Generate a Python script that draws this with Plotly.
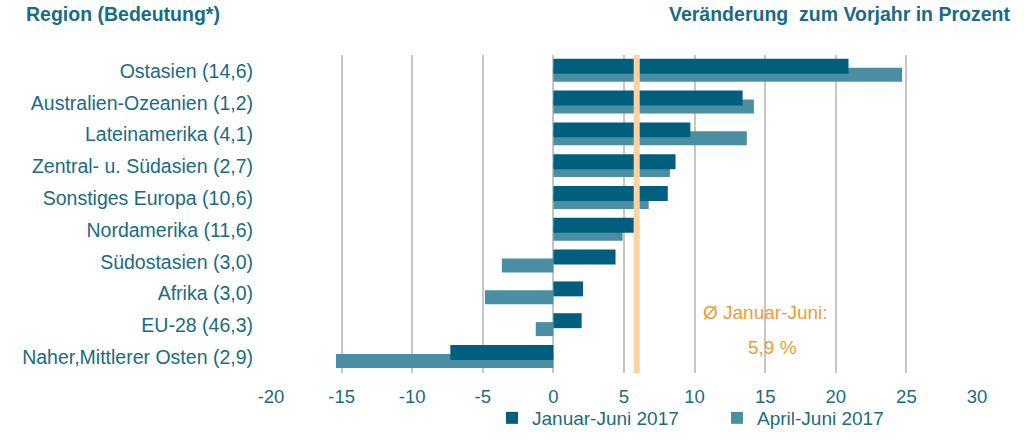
import plotly.graph_objects as go

regions = [
    "Ostasien (14,6)",
    "Australien-Ozeanien (1,2)",
    "Lateinamerika (4,1)",
    "Zentral- u. Südasien (2,7)",
    "Sonstiges Europa (10,6)",
    "Nordamerika (11,6)",
    "Südostasien (3,0)",
    "Afrika (3,0)",
    "EU-28 (46,3)",
    "Naher,Mittlerer Osten (2,9)",
]
jan_jun_2017 = [20.9, 13.4, 9.7, 8.65, 8.1, 5.7, 4.4, 2.1, 2.0, -7.3]
apr_jun_2017 = [24.7, 14.2, 13.7, 8.25, 6.75, 4.9, -3.65, -4.85, -1.25, -15.4]
avg_jan_jun = 5.9
x_ticks = [-20, -15, -10, -5, 0, 5, 10, 15, 20, 25, 30]
x_tick_labels = ["-20", "-15", "-10", "-5", "0", "5", "10", "15", "20", "25", "30"]

DARK = "#005f7e"
LIGHT = "#4a8ea3"
TEXT = "#1a6b84"
ORANGE = "#f19a34"
FONT = "Liberation Sans, Arial, sans-serif"

fig = go.Figure()
fig.add_trace(go.Bar(
    name="April-Juni 2017", y=regions, x=apr_jun_2017, orientation="h",
    marker=dict(color=LIGHT, line=dict(width=0)),
    offset=-0.1, width=0.44, legendrank=2,
))
fig.add_trace(go.Bar(
    name="Januar-Juni 2017", y=regions, x=jan_jun_2017, orientation="h",
    marker=dict(color=DARK, line=dict(width=0)),
    offset=-0.38, width=0.47, legendrank=1,
))

fig.add_shape(type="line", xref="x", yref="paper", x0=avg_jan_jun, x1=avg_jan_jun,
              y0=0, y1=1, line=dict(color="#fdd3a2", width=6), layer="above")

fig.add_annotation(x=15, y=7.6, xref="x", yref="y", text="Ø Januar-Juni:",
                   showarrow=False, font=dict(size=19, color=ORANGE, family=FONT))
fig.add_annotation(x=15.5, y=8.7, xref="x", yref="y", text="5,9 %",
                   showarrow=False, font=dict(size=19, color=ORANGE, family=FONT))

fig.add_annotation(x=-247/706, y=1 + 41/318, xref="paper", yref="paper",
                   xanchor="left", yanchor="middle", showarrow=False,
                   text="<b>Region (Bedeutung*)</b>",
                   font=dict(size=19.5, color=TEXT, family=FONT))
fig.add_annotation(x=1 + 35/706, y=1 + 41/318, xref="paper", yref="paper",
                   xanchor="right", yanchor="middle", showarrow=False,
                   text="<b>Veränderung \u00a0zum Vorjahr in Prozent</b>",
                   font=dict(size=19.5, color=TEXT, family=FONT))

fig.update_layout(
    width=1024, height=440,
    margin=dict(l=271, r=47, t=55, b=67, autoexpand=False),
    barmode="overlay",
    plot_bgcolor="white", paper_bgcolor="white",
    font=dict(family=FONT, color=TEXT, size=19),
    showlegend=True,
    legend=dict(orientation="h", x=(492 - 271) / 706, xanchor="left",
                y=-(418 - 373) / 318, yanchor="middle",
                font=dict(size=19, color=TEXT, family=FONT),
                bgcolor="rgba(0,0,0,0)", borderwidth=0,
                entrywidth=180, entrywidthmode="pixels", itemwidth=30),
)
fig.update_xaxes(range=[-20, 30], tickvals=x_ticks, ticktext=x_tick_labels,
                 showgrid=True, gridcolor="#c6c6c6", gridwidth=2, zeroline=True,
                 zerolinecolor="#c6c6c6", zerolinewidth=2, showline=False,
                 ticks="", ticklabelstandoff=10, automargin=False,
                 tickfont=dict(size=18.5, color=TEXT, family=FONT))
fig.update_yaxes(range=[9.5, -0.5], showgrid=False, zeroline=False, showline=False,
                 ticks="", ticklabelstandoff=17, automargin=False,
                 tickfont=dict(size=19.5, color=TEXT, family=FONT))

fig.write_html("out.html", config={"displayModeBar": False},
               post_script="document.body.style.margin='0';document.body.style.overflow='hidden';")
